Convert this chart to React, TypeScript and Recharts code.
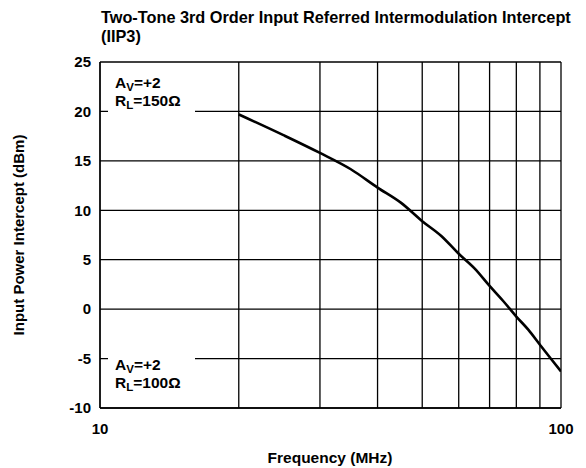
import React from 'react';
import {
  LineChart, Line, XAxis, YAxis, CartesianGrid, Customized,
} from 'recharts';

const freqMHz = [20, 25, 30, 35, 40, 45, 50, 55, 60, 65, 70, 75, 80, 85, 90, 95, 100];
const iip3dBm = [19.7, 17.6, 15.8, 14.15, 12.3, 10.75, 8.9, 7.4, 5.6, 4.1, 2.35, 0.8, -0.75, -2.1, -3.6, -5.0, -6.3];

const xTicks = [10, 20, 30, 40, 50, 60, 70, 80, 90, 100];
const xTickLabels = ['10', '', '', '', '', '', '', '', '', '100'];
const yTicks = [-10, -5, 0, 5, 10, 15, 20, 25];

const titleLines = ['Two-Tone 3rd Order Input Referred Intermodulation Intercept', '(IIP3)'];
const xLabel = 'Frequency (MHz)';
const yLabel = 'Input Power Intercept (dBm)';

const data = freqMHz.map((f, i) => ({ f, v: iip3dBm[i] }));

const FONT = '"Liberation Sans", Arial, Helvetica, sans-serif';

// gain / load notes, white box hides the grid line behind them
function Note({ x, y, load }: { x: number; y: number; load: string }) {
  return (
    <g fontFamily={FONT} fontWeight="bold" fontSize={15.5} fill="#000">
      <rect x={x - 7} y={y - 16} width={87} height={44} fill="#fff" />
      <text x={x} y={y}>
        A<tspan fontSize={11.5} dy={3}>V</tspan><tspan dy={-3}>=+2</tspan>
      </text>
      <text x={x} y={y + 18}>
        R<tspan fontSize={11.5} dy={3}>L</tspan><tspan dy={-3}>={load}Ω</tspan>
      </text>
    </g>
  );
}

function Texts() {
  return (
    <g fontFamily={FONT} fontWeight="bold" fill="#000">
      <text x={101} y={23} fontSize={16.3}>{titleLines[0]}</text>
      <text x={101} y={42} fontSize={16.3}>{titleLines[1]}</text>
      <text x={330} y={463} fontSize={15.5} textAnchor="middle">{xLabel}</text>
      <text x={24} y={235} fontSize={15} textAnchor="middle" transform="rotate(-90 24 235)">{yLabel}</text>
      <Note x={115} y={88} load="150" />
      <Note x={115} y={370} load="100" />
    </g>
  );
}

export default function App() {
  return (
    <div style={{ position: 'absolute', left: 0, top: 0, width: 586, height: 468, background: '#fff' }}>
      <LineChart
        width={586}
        height={468}
        data={data}
        margin={{ top: 62, right: 25, bottom: 30, left: 40 }}
      >
        <CartesianGrid stroke="#000" strokeWidth={1.3} />
        <XAxis
          dataKey="f"
          type="number"
          scale="log"
          domain={[10, 100]}
          ticks={xTicks}
          allowDataOverflow
          height={30}
          axisLine={{ stroke: '#000', strokeWidth: 1.3 }}
          tickLine={false}
          tickMargin={9}
          tick={{ fill: '#000', fontSize: 15, fontWeight: 'bold', fontFamily: FONT }}
          tickFormatter={(v: number) => xTickLabels[xTicks.indexOf(v)] ?? ''}
          interval={0}
        />
        <YAxis
          type="number"
          domain={[-10, 25]}
          ticks={yTicks}
          width={60}
          axisLine={{ stroke: '#000', strokeWidth: 1.3 }}
          tickLine={false}
          tickMargin={3}
          tick={{ fill: '#000', fontSize: 15, fontWeight: 'bold', fontFamily: FONT }}
          interval={0}
        />
        <Customized component={Texts} />
        <Line
          dataKey="v"
          type="monotone"
          stroke="#000"
          strokeWidth={2.6}
          dot={false}
          isAnimationActive={false}
        />
      </LineChart>
    </div>
  );
}
